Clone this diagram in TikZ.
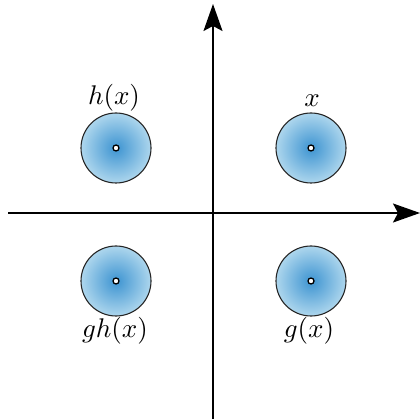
\documentclass[tikz,border=0pt]{standalone}
\usetikzlibrary{arrows.meta}
\definecolor{ballin}{rgb}{0.24,0.58,0.82}
\definecolor{ballout}{rgb}{0.68,0.84,0.93}
\newcommand{\biglab}[1]{\scalebox{2.7}{$#1$}}
\begin{document}
\begin{tikzpicture}[x=1pt,y=-1pt,
  axis/.style={line width=1.6pt,-{Stealth[length=27pt,width=19pt,inset=5pt]}},
  ball/.style={circle,minimum size=70pt,inner sep=0pt,draw=black!85,line width=1.1pt,inner color=ballin,outer color=ballout},
  pt/.style={circle,minimum size=6pt,inner sep=0pt,draw=black,fill=white,line width=1.3pt},
  lab/.style={inner sep=0pt}]
\useasboundingbox (0,0) rectangle (420,419);
\coordinate (xs) at (8,213);
\coordinate (xe) at (420,213);
\coordinate (ys) at (213,419);
\coordinate (ye) at (213,4);
\draw[axis] (xs) -- (xe);
\draw[axis] (ys) -- (ye);
\node[ball] (b1) at (311,148) {};
\node[ball] (b2) at (116,148) {};
\node[ball] (b3) at (116,281) {};
\node[ball] (b4) at (311,281) {};
\node[pt] (p1) at (b1.center) {};
\node[pt] (p2) at (b2.center) {};
\node[pt] (p3) at (b3.center) {};
\node[pt] (p4) at (b4.center) {};
\node[lab] (l1) at (312,101) {\biglab{x}};
\node[lab] (l2) at (114,98) {\biglab{h(x)}};
\node[lab] (l3) at (115,331) {\biglab{gh(x)}};
\node[lab] (l4) at (309,331) {\biglab{g(x)}};
\end{tikzpicture}
\end{document}
